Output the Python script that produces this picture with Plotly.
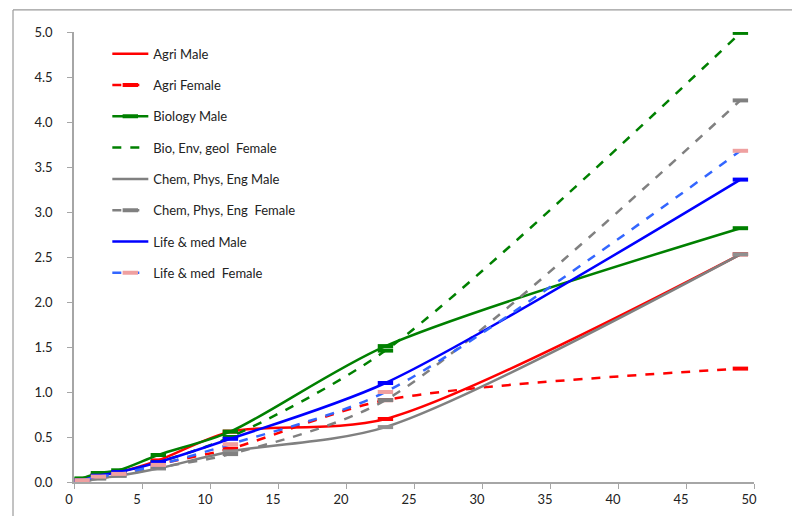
import plotly.graph_objects as go

x_vals = [0.6, 1.8, 3.3, 6.2, 11.5, 22.9, 49.0]

series_names = ["Agri Male", "Agri Female", "Biology Male", "Bio, Env, geol  Female",
                "Chem, Phys, Eng Male", "Chem, Phys, Eng  Female", "Life & med Male", "Life & med  Female"]

agri_male = [0.01, 0.08, 0.11, 0.24, 0.56, 0.70, 2.53]
agri_female = [0.00, 0.06, 0.10, 0.20, 0.37, 0.91, 1.26]
biology_male = [0.04, 0.10, 0.13, 0.30, 0.56, 1.51, 2.82]
bio_female = [0.03, 0.08, 0.11, 0.22, 0.50, 1.46, 4.99]
chem_male = [0.00, 0.04, 0.07, 0.15, 0.34, 0.61, 2.53]
chem_female = [0.00, 0.04, 0.07, 0.16, 0.31, 0.91, 4.24]
life_male = [0.02, 0.07, 0.11, 0.22, 0.48, 1.10, 3.36]
life_female = [0.02, 0.06, 0.09, 0.19, 0.42, 1.00, 3.68]

x_ticks = [0, 5, 10, 15, 20, 25, 30, 35, 40, 45, 50]
y_ticks = [0, 0.5, 1.0, 1.5, 2.0, 2.5, 3.0, 3.5, 4.0, 4.5, 5.0]

values = [agri_male, agri_female, biology_male, bio_female, chem_male, chem_female, life_male, life_female]
styles = [
    dict(color="#FF0000", dash="solid", mcolor="#FF0000", legend_marker=False),
    dict(color="#FF0000", dash="dash", mcolor="#FF0000", legend_marker=True),
    dict(color="#008000", dash="solid", mcolor="#008000", legend_marker=True),
    dict(color="#008000", dash="dash", mcolor="#008000", legend_marker=False),
    dict(color="#808080", dash="solid", mcolor="#909090", legend_marker=False),
    dict(color="#808080", dash="dash", mcolor="#808080", legend_marker=True),
    dict(color="#0000FF", dash="solid", mcolor="#0000FF", legend_marker=False),
    dict(color="#3366FF", dash="dash", mcolor="#EFA0A0", legend_marker=True),
]

fig = go.Figure()
for name, vals, st in zip(series_names, values, styles):
    marker = dict(symbol="line-ew", size=11, line=dict(color=st["mcolor"], width=4))
    fig.add_trace(go.Scatter(
        x=x_vals, y=vals, name=name,
        mode="lines+markers" if st["legend_marker"] else "lines",
        line=dict(color=st["color"], width=2.5, dash=st["dash"], shape="spline", smoothing=0.8),
        marker=marker,
        legendgroup=name,
    ))
    if not st["legend_marker"]:
        fig.add_trace(go.Scatter(
            x=x_vals, y=vals, name=name, mode="markers", marker=marker,
            legendgroup=name, showlegend=False, hoverinfo="skip",
        ))

axis_color = "#A6A6A6"
fig.update_layout(
    width=800, height=516,
    margin=dict(l=66, r=54, t=24, b=42),
    plot_bgcolor="white", paper_bgcolor="white",
    font=dict(family="Lato, 'Open Sans', sans-serif", size=13, color="#222222"),
    showlegend=True,
    legend=dict(x=0.049, y=0.985, xanchor="left", yanchor="top",
                bgcolor="rgba(0,0,0,0)", tracegroupgap=11.4, itemwidth=36,
                font=dict(size=13, color="#222222")),
    xaxis=dict(range=[0, 50], tickvals=x_ticks, showgrid=False, zeroline=False,
               showline=True, linecolor=axis_color, linewidth=1.5,
               ticks="outside", ticklen=5, tickcolor=axis_color,
               ticklabelshift=-5,
               tickfont=dict(size=13, color="#222222")),
    yaxis=dict(range=[0, 5], tickvals=y_ticks, tickformat=".1f", showgrid=False, zeroline=False,
               showline=True, linecolor=axis_color, linewidth=1.5,
               ticks="outside", ticklen=5, tickcolor=axis_color,
               ticklabelstandoff=12,
               tickfont=dict(size=13, color="#222222")),
    shapes=[
        dict(type="line", xref="paper", yref="paper", x0=-0.0897, x1=1.2, y0=1.049, y1=1.049,
             line=dict(color="#9A9A9A", width=1.2)),
        dict(type="line", xref="paper", yref="paper", x0=-0.0897, x1=-0.0897, y0=1.049, y1=-0.2,
             line=dict(color="#9A9A9A", width=1.2)),
    ],
)

fig.write_html("out.html")
